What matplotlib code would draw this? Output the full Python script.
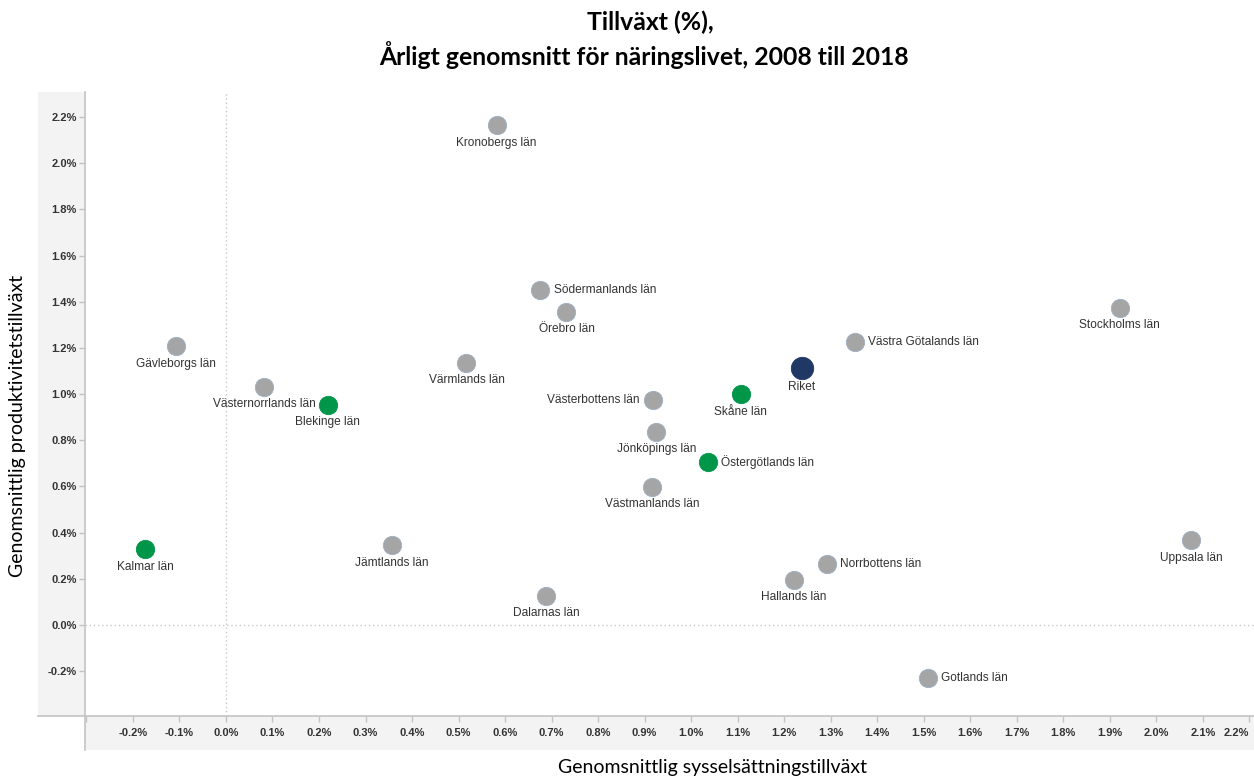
import matplotlib.pyplot as plt
from matplotlib.patches import Rectangle
from matplotlib.lines import Line2D
from matplotlib.ticker import FuncFormatter

# regions: (name, employment growth %, productivity growth %)
names = ["Kronobergs län", "Södermanlands län", "Örebro län", "Gävleborgs län",
         "Värmlands län", "Västernorrlands län", "Blekinge län", "Västerbottens län",
         "Skåne län", "Riket", "Västra Götalands län", "Stockholms län",
         "Jönköpings län", "Östergötlands län", "Västmanlands län", "Kalmar län",
         "Jämtlands län", "Dalarnas län", "Hallands län", "Norrbottens län",
         "Uppsala län", "Gotlands län"]
syss = [0.582, 0.676, 0.732, -0.107, 0.517, 0.082, 0.219, 0.918,
        1.107, 1.238, 1.352, 1.921, 0.925, 1.036, 0.916, -0.174,
        0.356, 0.689, 1.221, 1.292, 2.075, 1.509]
prod = [2.165, 1.451, 1.356, 1.208, 1.135, 1.031, 0.953, 0.974,
        1.000, 1.113, 1.226, 1.373, 0.836, 0.706, 0.598, 0.329,
        0.346, 0.126, 0.195, 0.264, 0.368, -0.230]
groups = ["g", "g", "g", "g", "g", "g", "s", "g",
          "s", "r", "g", "g", "g", "s", "g", "s",
          "g", "g", "g", "g", "g", "g"]
label_pos = ["below", "right", "below", "below", "below", "below", "below", "left",
             "below", "below", "right", "below", "below", "right", "below", "below",
             "below", "below", "below", "right", "below", "right"]

colors = {"g": "#a5a5a5", "s": "#00964a", "r": "#1f3864"}
sizes = {"g": 175, "s": 175, "r": 260}

W, H = 1254, 781
fig = plt.figure(figsize=(W / 100, H / 100), dpi=100)

def fx(px):
    return px / W

def fy(py):
    return 1 - py / H

L, R, T, B = 85, 1254, 92, 716
ax = fig.add_axes([fx(L), fy(B), fx(R - L), fy(T) - fy(B)])
ax.set_zorder(2)

# gray strips behind tick labels
fig.patches.append(Rectangle((fx(38), fy(B)), fx(L - 38), fy(T) - fy(B),
                             transform=fig.transFigure, facecolor="#f3f3f3",
                             edgecolor="none", zorder=0))
fig.patches.append(Rectangle((fx(L), fy(750)), fx(R - L), fy(B) - fy(750),
                             transform=fig.transFigure, facecolor="#f3f3f3",
                             edgecolor="none", zorder=0))
fig.lines.append(Line2D([fx(38), 1], [fy(B), fy(B)], transform=fig.transFigure,
                        color="#c4c4c4", lw=1.2, zorder=1))
fig.lines.append(Line2D([fx(L), fx(L)], [fy(750), fy(T)], transform=fig.transFigure,
                        color="#c4c4c4", lw=1.2, zorder=1))

ax.set_xlim(-0.303, 2.21)
ax.set_ylim(-0.394, 2.308)
for s in ax.spines.values():
    s.set_visible(False)

ax.axvline(0, color="#c8c8c8", lw=1, ls=(0, (1, 2)), zorder=1)
ax.axhline(0, color="#c8c8c8", lw=1, ls=(0, (1, 2)), zorder=1)

for i in range(len(names)):
    g = groups[i]
    ax.scatter(syss[i], prod[i], s=sizes[g], color=colors[g], zorder=3,
               edgecolors=colors[g] if g != "g" else "#9db0c4", linewidths=0.6)
    off = 17.5 if g != "r" else 19
    if label_pos[i] == "below":
        ax.annotate(names[i], (syss[i], prod[i]), xytext=(0, -off * 0.72),
                    textcoords="offset points", ha="center", va="center",
                    fontsize=8.6, color="#333333", family="Liberation Sans")
    elif label_pos[i] == "right":
        ax.annotate(names[i], (syss[i], prod[i]), xytext=(9.5, 0),
                    textcoords="offset points", ha="left", va="center",
                    fontsize=8.6, color="#333333", family="Liberation Sans")
    else:
        ax.annotate(names[i], (syss[i], prod[i]), xytext=(-9.5, 0),
                    textcoords="offset points", ha="right", va="center",
                    fontsize=8.6, color="#333333", family="Liberation Sans")

xticks = [-0.3, -0.2, -0.1, 0.0, 0.1, 0.2, 0.3, 0.4, 0.5, 0.6, 0.7, 0.8, 0.9, 1.0,
          1.1, 1.2, 1.3, 1.4, 1.5, 1.6, 1.7, 1.8, 1.9, 2.0, 2.1, 2.2]
yticks = [-0.2, 0.0, 0.2, 0.4, 0.6, 0.8, 1.0, 1.2, 1.4, 1.6, 1.8, 2.0, 2.2]
ax.set_xticks(xticks)
ax.set_yticks(yticks)
pct = FuncFormatter(lambda v, p: "" if v < -0.25 else f"{v:.1f}%")
ax.xaxis.set_major_formatter(pct)
ax.yaxis.set_major_formatter(FuncFormatter(lambda v, p: f"{v:.1f}%"))
ax.tick_params(axis="both", colors="#c4c4c4", labelcolor="#333333", length=4,
               width=1, labelsize=8)
ax.tick_params(axis="x", pad=5)
ax.tick_params(axis="y", pad=2)
for lab in ax.get_xticklabels() + ax.get_yticklabels():
    lab.set_fontweight("bold")
    lab.set_family("Liberation Sans")
ax.get_xticklabels()[-1].set_ha("right")
ax.patch.set_alpha(0)

fig.text(fx(650), fy(22), "Tillväxt (%),", ha="center", va="center",
         fontsize=17.8, fontweight="bold", family="Lato")
fig.text(fx(644), fy(55), "Årligt genomsnitt för näringslivet, 2008 till 2018",
         ha="center", va="center", fontsize=17.8, fontweight="bold", family="Lato")
fig.text(fx(712), fy(768), "Genomsnittlig sysselsättningstillväxt", ha="center",
         va="center", fontsize=14, family="Lato")
fig.text(fx(18), fy(426), "Genomsnittlig produktivitetstillväxt", ha="center",
         va="center", rotation=90, fontsize=14, family="Lato")

fig.savefig("out.png", dpi=100)
